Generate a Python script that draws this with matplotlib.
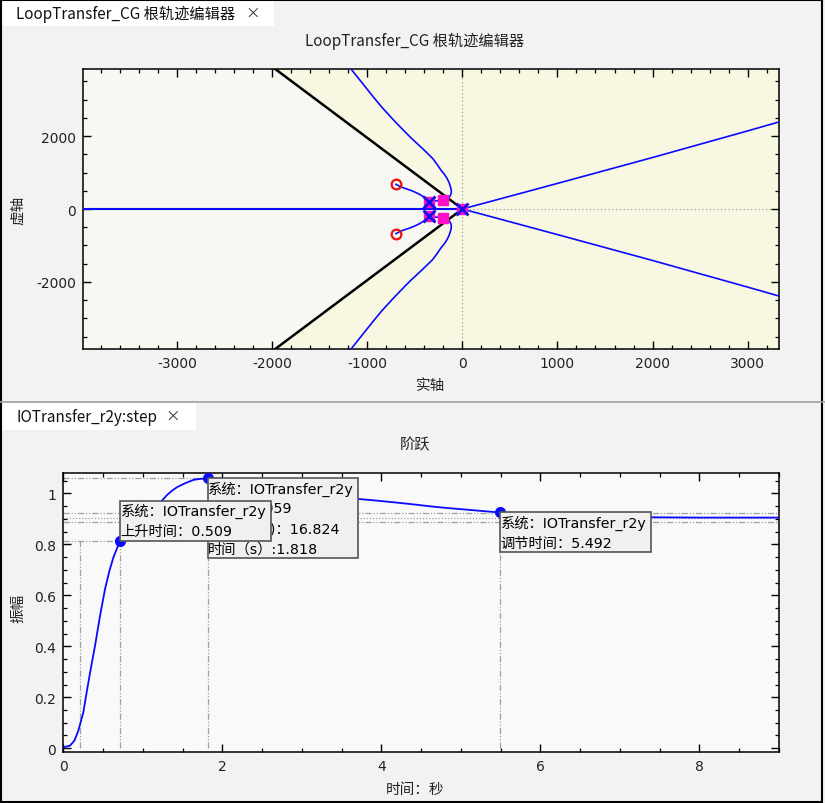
import matplotlib
matplotlib.use('Agg')
import matplotlib.pyplot as plt
from matplotlib.patches import Rectangle, Polygon
from matplotlib.ticker import MultipleLocator
from matplotlib.transforms import ScaledTranslation

plt.rcParams['font.family'] = ['DejaVu Sans', 'Noto Sans CJK SC']
plt.rcParams['axes.unicode_minus'] = False
CJK = ['Noto Sans CJK SC', 'DejaVu Sans']

# ---------------- Root locus data ----------------
open_poles_re = [0, -347, -347]
open_poles_im = [0, 205, -205]
zeros_re = [-698, -698]
zeros_im = [675, -675]
cl_poles_re = [0, -347, -347, -207, -207]
cl_poles_im = [0, 205, -205, 240, -240]

# branch: pole -> closed-loop pole -> up-left asymptote
branch_re = [-347, -207, -185, -165, -146, -130, -120, -116, -119, -126, -140, -161, -190,
             -225, -265, -312, -420, -540, -650, -734, -850, -960, -1070, -1172, -1180]
branch_im = [205, 240, 255, 273, 305, 355, 410, 475, 545, 612, 725, 839, 955,
             1066, 1220, 1385, 1660, 1950, 2240, 2470, 2800, 3150, 3510, 3844, 3870]
# branch: zero -> pole
zbranch_re = [-698, -660, -620, -580, -540, -500, -460, -420, -385, -347]
zbranch_im = [675, 622, 580, 545, 508, 465, 415, 355, 290, 205]
# branch: origin -> right asymptote
rbranch_re = [0, 500, 1000, 1500, 2000, 2500, 3000, 3340]
rbranch_im = [0, 350, 702, 1057, 1412, 1777, 2142, 2395]
# real-axis locus
real_re = [-4000, 0]
real_im = [0, 0]
# damping-ratio boundary line
zeta_re = [0, -2100]
zeta_im = [0, 4097]

rl_xlim = (-3990, 3330)
rl_ylim = (-3840, 3840)

# ---------------- Step response data ----------------
step_t = [0, 0.084, 0.14, 0.189, 0.252, 0.294, 0.345, 0.399, 0.462, 0.525, 0.58, 0.63, 0.68,
          0.714, 0.76, 0.82, 0.9, 1.0, 1.1, 1.17, 1.239, 1.302, 1.365, 1.428, 1.533, 1.637,
          1.72, 1.826, 1.95, 2.1, 2.3, 2.5, 2.75, 3.0, 3.2, 3.4, 3.55, 3.715, 3.93, 4.156,
          4.4, 4.618, 4.85, 5.08, 5.3, 5.49, 5.8, 6.09, 6.5, 6.92, 7.5, 8.0, 9.0]
step_y = [0.004, 0.010, 0.030, 0.069, 0.141, 0.220, 0.311, 0.402, 0.520, 0.625, 0.696, 0.749, 0.788,
          0.814, 0.836, 0.857, 0.880, 0.905, 0.930, 0.950, 0.971, 0.993, 1.010, 1.024, 1.040, 1.053,
          1.057, 1.059, 1.058, 1.055, 1.048, 1.040, 1.028, 1.014, 1.003, 0.992, 0.985, 0.978, 0.972, 0.965,
          0.957, 0.949, 0.942, 0.936, 0.930, 0.925, 0.920, 0.915, 0.911, 0.908, 0.906, 0.905, 0.905]

rise_t10 = 0.205
rise_t90 = 0.714
rise_level = 0.814
rise_time = 0.509
peak_t = 1.818
peak_y = 1.059
overshoot = 16.824
settle_t = 5.492
settle_y = 0.925
final_value = 0.905
band_upper = 0.924
band_lower = 0.887
system_name = 'IOTransfer_r2y'

W, H = 825, 804
fig = plt.figure(figsize=(W / 100, H / 100), dpi=100, facecolor='#f2f2f2')

# ---------- background chrome ----------
bg = fig.add_axes([0, 0, 1, 1], zorder=-5)
bg.set_xlim(0, W)
bg.set_ylim(H, 0)
bg.axis('off')
bg.add_patch(Rectangle((1, 1), 273, 26, facecolor='white', edgecolor='none'))
bg.add_patch(Rectangle((1, 403.5), 195, 27, facecolor='white', edgecolor='none'))
bg.plot([0, W], [402.5, 402.5], color='#a0a0a0', lw=1.2)
bg.text(16, 14, 'LoopTransfer_CG 根轨迹编辑器', family=CJK, fontsize=11, va='center', ha='left', color='#111111')
bg.text(245, 13.5, '×', family=CJK, fontsize=10.5, va='center', ha='left', color='#333333')
bg.text(16, 417.5, 'IOTransfer_r2y:step', family=CJK, fontsize=11, va='center', ha='left', color='#111111')
bg.text(165, 417, '×', family=CJK, fontsize=10.5, va='center', ha='left', color='#333333')
bg.text(415, 41.5, 'LoopTransfer_CG 根轨迹编辑器', family=CJK, fontsize=11, va='center', ha='center', color='#222222')
bg.text(415, 444.5, '阶跃', family=CJK, fontsize=11, va='center', ha='center', color='#222222')
bg.text(431, 386, '实轴', family=CJK, fontsize=10.5, va='center', ha='center', color='#222222')
bg.text(18, 210, '虚轴', family=CJK, fontsize=10.5, va='center', ha='center', rotation=90, color='#222222')
bg.text(18, 608, '振幅', family=CJK, fontsize=10.5, va='center', ha='center', rotation=90, color='#222222')
bg.text(415, 790, '时间：秒', family=CJK, fontsize=10.5, va='center', ha='center', color='#222222')
bg.add_patch(Rectangle((0.75, 0.75), 821.5, 802, facecolor='none', edgecolor='black', lw=1.5, clip_on=False))


def style_axes(ax):
    for s in ax.spines.values():
        s.set_color('black')
        s.set_linewidth(1.1)
    ax.tick_params(which='both', direction='in', top=True, right=True, colors='black',
                   labelsize=10, labelcolor='#222222')
    ax.tick_params(which='major', length=6, width=1.0, pad=5)
    ax.tick_params(which='minor', length=3, width=0.9)


# ---------- Root locus axes ----------
ax1 = fig.add_axes([83 / W, 1 - 350 / H, 696 / W, 280 / H])
ax1.set_facecolor('#f8f8e2')
ax1.set_xlim(*rl_xlim)
ax1.set_ylim(*rl_ylim)
wedge = Polygon([(zeta_re[0], zeta_im[0]), (zeta_re[1], zeta_im[1]), (rl_xlim[0] - 500, zeta_im[1]),
                 (rl_xlim[0] - 500, -zeta_im[1]), (zeta_re[1], -zeta_im[1])],
                closed=True, facecolor='#f7f8f2', edgecolor='none', zorder=0)
ax1.add_patch(wedge)
ax1.axvline(0, color='#a0a0a0', lw=0.9, ls=(0, (1, 2)), zorder=1)
ax1.axhline(0, color='#a0a0a0', lw=0.9, ls=(0, (1, 2)), zorder=1)
for sgn in (1, -1):
    ax1.plot(zeta_re, [sgn * v for v in zeta_im], color='black', lw=1.8, zorder=2)
    ax1.plot(branch_re, [sgn * v for v in branch_im], color='#0a0aff', lw=1.2, zorder=3)
    ax1.plot(zbranch_re, [sgn * v for v in zbranch_im], color='#0a0aff', lw=1.2, zorder=3)
    ax1.plot(rbranch_re, [sgn * v for v in rbranch_im], color='#0a0aff', lw=1.2, zorder=3)
ax1.plot(real_re, real_im, color='#0a0aff', lw=1.5, zorder=3)
ax1.plot(cl_poles_re, cl_poles_im, ls='none', marker='s', ms=7.5, mfc='#ff10c8', mec='#ff10c8', zorder=4)
ax1.plot(open_poles_re, open_poles_im, ls='none', marker='x', ms=8, mew=2, color='#1010ee', zorder=5)
ax1.plot(zeros_re, zeros_im, ls='none', marker='o', ms=7, mew=1.6, mfc='none', mec='#ee1010', zorder=5)
ax1.xaxis.set_major_locator(MultipleLocator(1000))
ax1.xaxis.set_minor_locator(MultipleLocator(200))
ax1.yaxis.set_major_locator(MultipleLocator(2000))
ax1.yaxis.set_minor_locator(MultipleLocator(500))
style_axes(ax1)

# ---------- Step response axes ----------
ax2 = fig.add_axes([63.3 / W, 1 - 753.3 / H, 715.7 / W, 279.3 / H])
ax2.set_facecolor('#f9f9f9')
ax2.set_xlim(0, 9)
ax2.set_ylim(-0.016, 1.08)
ref = dict(color='#a0a0a0', lw=0.9, ls=(0, (5, 1.5, 1, 1.5, 1, 1.5)), zorder=1)
ax2.plot([0, peak_t], [peak_y, peak_y], **ref)
ax2.plot([peak_t, peak_t], [0, peak_y], **ref)
ax2.plot([0, rise_t90], [rise_level, rise_level], **ref)
ax2.plot([rise_t10, rise_t10], [0, rise_level], **ref)
ax2.plot([rise_t90, rise_t90], [0, rise_level], **ref)
ax2.plot([settle_t, settle_t], [0, settle_y], **ref)
ax2.axhline(band_upper, **ref)
ax2.axhline(band_lower, **ref)
ax2.axhline(final_value, color='#a0a0a0', lw=0.9, ls=(0, (1, 1.5)), zorder=1)
ax2.plot(step_t, step_y, color='#0a0aff', lw=1.3, zorder=3)
ax2.plot([rise_t90, peak_t, settle_t], [rise_level, peak_y, settle_y], ls='none', marker='o',
         ms=7, color='#0a0aff', zorder=6)


def info_box(ax, x, y, lines, up, z):
    """Box anchored with a corner at data point (x, y); sizes in pixels (1px = 0.01in)."""
    trans = fig.dpi_scale_trans + ScaledTranslation(x, y, ax.transData)
    w = 1.505
    h = 0.20 * len(lines)
    y0 = 0.0 if up else -h
    ax.add_patch(Rectangle((0, y0), w, h, transform=trans, facecolor='#f0f0f0',
                           edgecolor='#555555', lw=1.2, zorder=z, clip_on=False))
    for i, s in enumerate(lines):
        ax.text(0.005, y0 + h - 0.10 - 0.20 * i, s, transform=trans, ha='left', va='center',
                fontsize=10.3, family=['DejaVu Sans', 'Noto Sans CJK SC'], color='black',
                zorder=z + 0.5, clip_on=False)


info_box(ax2, peak_t, peak_y,
         [f'系统：{system_name}', f'峰值：{peak_y:.3f}', f'超调量(%)：{overshoot:.3f}',
          f'时间（s）:{peak_t:.3f}'], up=False, z=7)
info_box(ax2, rise_t90, rise_level,
         [f'系统：{system_name}', f'上升时间：{rise_time:.3f}'], up=True, z=9)
info_box(ax2, settle_t, settle_y,
         [f'系统：{system_name}', f'调节时间：{settle_t:.3f}'], up=False, z=7)

ax2.xaxis.set_major_locator(MultipleLocator(2))
ax2.xaxis.set_minor_locator(MultipleLocator(0.5))
ax2.yaxis.set_minor_locator(MultipleLocator(0.05))
ax2.set_yticks([0, 0.2, 0.4, 0.6, 0.8, 1.0])
ax2.set_yticklabels(['0', '0.2', '0.4', '0.6', '0.8', '1'])
style_axes(ax2)

fig.savefig('out.png', dpi=100, facecolor=fig.get_facecolor())
